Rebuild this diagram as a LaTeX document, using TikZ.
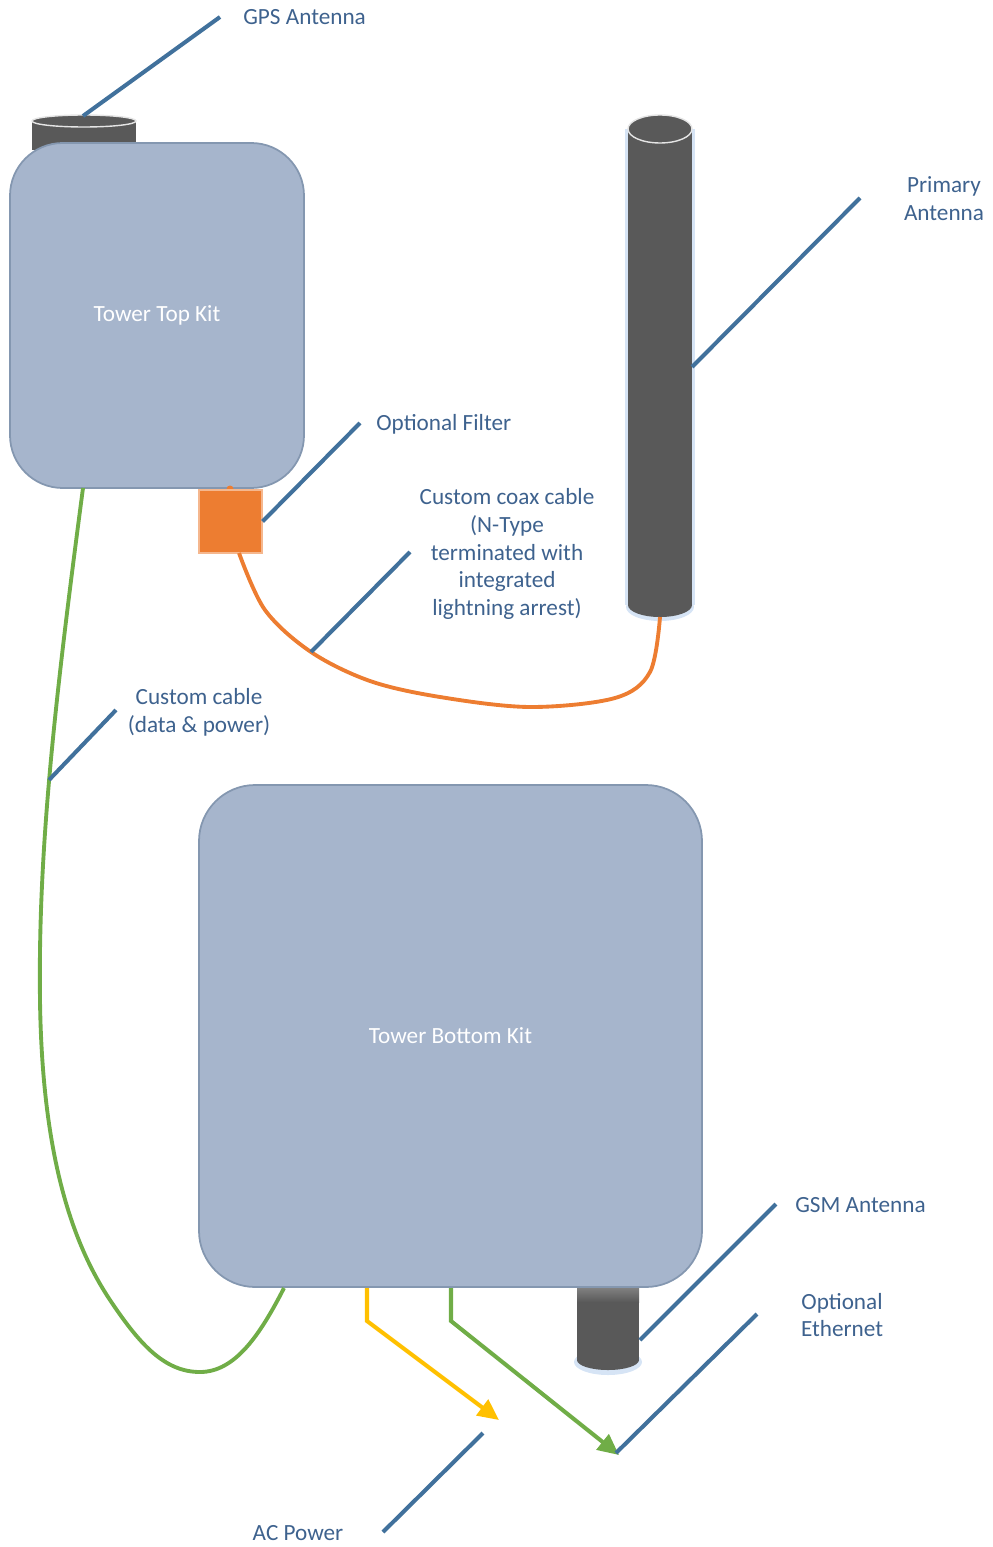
\documentclass[tikz,border=0pt]{standalone}
\usepackage{fontspec}
\setmainfont{Carlito}
\usepackage{tikz}
\usetikzlibrary{arrows.meta, positioning, calc}

\definecolor{kitfill}{RGB}{166,181,204}
\definecolor{kitedge}{RGB}{132,151,176}
\definecolor{antgray}{RGB}{89,89,89}
\definecolor{leadblue}{RGB}{65,113,156}
\definecolor{textblue}{RGB}{62,98,142}
\definecolor{glowblue}{RGB}{214,228,245}
\definecolor{coaxorange}{RGB}{237,125,49}
\definecolor{cablegreen}{RGB}{112,173,71}
\definecolor{powergold}{RGB}{255,192,0}

\begin{document}
\begin{tikzpicture}[
  x=0.02cm, y=-0.02cm,
  every node/.style={font=\fontsize{13.2}{15.9}\selectfont},
  kitbox/.style={draw=kitedge, line width=1pt, fill=kitfill, rounded corners=#1},
  kitlabel/.style={text=white},
  antbody/.style={fill=antgray},
  anttop/.style={fill=antgray, draw=white!80!gray, line width=0.8pt},
  glow/.style={draw=glowblue, line width=3pt},
  callout/.style={text=textblue, align=center, inner sep=0pt},
  leader/.style={draw=leadblue, line width=2.3pt},
  coax/.style={draw=coaxorange, line width=2.2pt},
  cable/.style={draw=cablegreen, line width=2.2pt},
  feed/.style={line width=2.3pt, -{Triangle[length=12pt, width=11pt]}}
]
\useasboundingbox (0,0) rectangle (992,1547);

% antennas behind the kits
\fill[antbody] (32,121) rectangle (136,150);
\draw[anttop] (84,121) ellipse [x radius=52, y radius=6];

\draw[glow] (628,129) -- (628,605) (692,129) -- (692,605);
\fill[glowblue] (660,607) ellipse [x radius=34, y radius=14];
\fill[antbody] (628,129) rectangle (692,605);
\fill[antbody] (660,605) ellipse [x radius=32, y radius=12];
\draw[anttop] (660,129) ellipse [x radius=32, y radius=14];

\fill[glowblue] (608,1362) ellipse [x radius=34, y radius=13];
\fill[antbody] (577,1280) rectangle (639,1360);
\fill[antbody] (608,1360) ellipse [x radius=31, y radius=10];
\shade[top color=antgray!75!white, bottom color=antgray] (577,1287) rectangle (639,1302);

% kits
\node[kitbox=30pt, minimum width=294*0.02cm, minimum height=345*0.02cm] (TopKit) at (157,315.5) {};
\node[kitlabel] (TopKit_L) at (TopKit.center) {Tower Top Kit};
\node[kitbox=32pt, minimum width=503*0.02cm, minimum height=502*0.02cm] (BotKit) at (450.5,1036) {};
\node[kitlabel] (BotKit_L) at (BotKit.center) {Tower Bottom Kit};

% filter
\fill[coaxorange] (230,489) circle (3.5);
\node[draw=coaxorange!55!white, fill=coaxorange, minimum size=63*0.02cm, inner sep=0pt, line width=0.6pt] (Filter) at (230.5,521.5) {};

% cables
\draw[coax] plot[smooth, tension=0.55] coordinates {(239,553) (265,610) (311,652) (370,681) (440,697) (530,707) (615,698) (650,672) (660,617)};
\draw[cable] (83,488) .. controls (55,700) and (38,850) .. (40,1000)
  .. controls (42,1150) and (70,1240) .. (110,1300)
  .. controls (140,1345) and (165,1372) .. (200,1372)
  .. controls (235,1372) and (260,1335) .. (284,1288);

\coordinate (AC_s) at (367,1288);
\coordinate (AC_k) at (367,1321);
\coordinate (AC_e) at (499,1420);
\coordinate (Eth_s) at (451,1288);
\coordinate (Eth_k) at (451,1321);
\coordinate (Eth_e) at (619,1455);
\draw[feed, powergold] (AC_s) -- (AC_k) -- (AC_e);
\draw[feed, cablegreen] (Eth_s) -- (Eth_k) -- (Eth_e);

% callouts
\node[callout, anchor=west] (GPS_L) at (243,17) {GPS Antenna};
\node[callout] (Prim_L) at (944,199) {Primary\\Antenna};
\node[callout, anchor=west] (Filt_L) at (376,424) {Optional Filter};
\node[callout] (Coax_L) at (507,554) {Custom coax cable\\(N-Type\\terminated with\\integrated\\lightning arrest)};
\node[callout] (Cab_L) at (199,712) {Custom cable\\(data \& power)};
\node[callout, anchor=west] (GSM_L) at (795,1205) {GSM Antenna};
\node[callout] (Eth_L) at (842,1315) {Optional\\Ethernet};
\node[callout] (AC_L) at (298,1533) {AC Power};

\draw[leader] (83,116) -- (220,17);
\draw[leader] (692,367) -- (860,198);
\draw[leader] (Filter.east) -- (360,423);
\draw[leader] (311,652) -- (410,552);
\draw[leader] (49,780) -- (116,710);
\draw[leader] (640,1340) -- (776,1204);
\draw[leader] (Eth_e) ++(-3,-2) -- (757,1314);
\draw[leader] (383,1532) -- (483,1433);
\end{tikzpicture}
\end{document}
